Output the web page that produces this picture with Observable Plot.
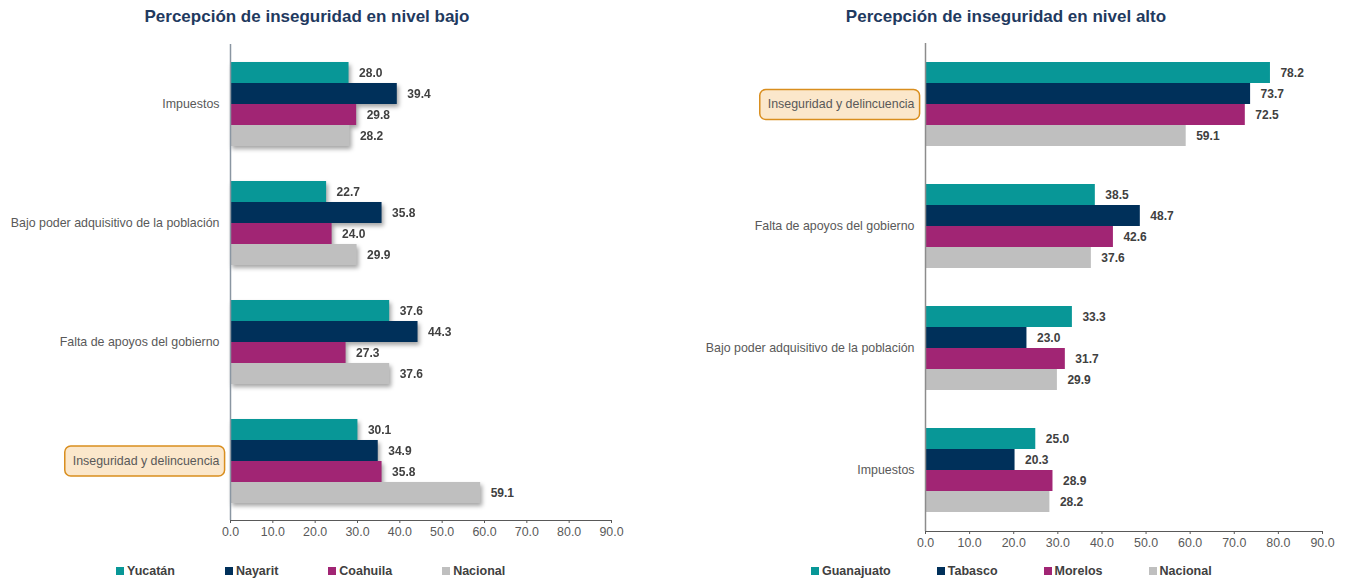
<!DOCTYPE html>
<html><head><meta charset="utf-8">
<script src="https://cdn.jsdelivr.net/npm/d3@7"></script>
<script src="https://cdn.jsdelivr.net/npm/@observablehq/plot@0.6"></script>
<style>
body{margin:0;width:1350px;height:582px;position:relative;background:#fff;font-family:"Liberation Sans",Arial,sans-serif;overflow:hidden}
.panel{position:absolute;top:0;width:675px;height:582px}
.title{position:absolute;top:7px;left:0;font-weight:bold;font-size:17px;color:#1f3a60;text-align:center;white-space:nowrap}
.chart{position:absolute;top:0;left:0}
.legend{position:absolute;top:564px;display:flex;gap:50px;font-weight:bold;font-size:12.5px;color:#404040;white-space:nowrap}
.legend .sw{display:inline-block;width:8px;height:8px;margin-right:3px}
#left g[aria-label="bar"]{filter:drop-shadow(2px 3px 2px rgba(0,0,0,0.35))}
</style></head><body>
<div class="panel" id="left" style="left:0">
  <div class="title" style="width:614px">Percepción de inseguridad en nivel bajo</div>
  <div class="chart"></div>
  <div class="legend" style="left:116px"></div>
</div>
<div class="panel" id="right" style="left:675px">
  <div class="title" style="width:662px">Percepción de inseguridad en nivel alto</div>
  <div class="chart"></div>
  <div class="legend" style="left:136px;gap:46px"></div>
</div>
<script>
const colors = ["#089797", "#00305a", "#a12574", "#bfbfbf"];
const xTicks = [0, 10, 20, 30, 40, 50, 60, 70, 80, 90];
const highlighted = "Inseguridad y delincuencia";

// Left chart: nivel bajo
const leftCategories = ["Impuestos", "Bajo poder adquisitivo de la población", "Falta de apoyos del gobierno", "Inseguridad y delincuencia"];
const leftSeries = ["Yucatán", "Nayarit", "Coahuila", "Nacional"];
const leftYucatan = [28.0, 22.7, 37.6, 30.1];
const leftNayarit = [39.4, 35.8, 44.3, 34.9];
const leftCoahuila = [29.8, 24.0, 27.3, 35.8];
const leftNacional = [28.2, 29.9, 37.6, 59.1];

// Right chart: nivel alto
const rightCategories = ["Inseguridad y delincuencia", "Falta de apoyos del gobierno", "Bajo poder adquisitivo de la población", "Impuestos"];
const rightSeries = ["Guanajuato", "Tabasco", "Morelos", "Nacional"];
const rightGuanajuato = [78.2, 38.5, 33.3, 25.0];
const rightTabasco = [73.7, 48.7, 23.0, 20.3];
const rightMorelos = [72.5, 42.6, 31.7, 28.9];
const rightNacional = [59.1, 37.6, 29.9, 28.2];

function buildTable(categories, series, valueLists) {
  const rows = [];
  categories.forEach((c, i) => series.forEach((s, j) => rows.push({category: c, series: s, value: valueLists[j][i]})));
  return rows;
}

function makeChart(cfg) {
  const data = buildTable(cfg.categories, cfg.series, cfg.values);
  const fmt = d3.format(".1f");
  return Plot.plot({
    width: cfg.width, height: cfg.height,
    marginLeft: cfg.ml, marginRight: cfg.mr, marginTop: cfg.mt, marginBottom: cfg.mb,
    style: {fontFamily: "Liberation Sans, Arial, sans-serif", fontSize: "12.4px", color: "#595959", background: "transparent"},
    x: {domain: [0, 90], ticks: xTicks, tickFormat: fmt, tickSize: 3, tickPadding: 4, line: true, label: null},
    y: {domain: cfg.series, axis: null, paddingInner: 0, paddingOuter: cfg.po, align: 0.5},
    fy: {domain: cfg.categories, padding: 0, axis: "left", label: null, tickSize: 0, tickPadding: 11},
    color: {domain: cfg.series, range: colors},
    marks: [
      Plot.barX(data, {x: "value", y: "series", fy: "category", fill: "series"}),
      Plot.text(data, {x: "value", y: "series", fy: "category", text: d => fmt(d.value), textAnchor: "start", dx: 10, fill: "#404040", fontWeight: "bold", fontSize: 12}),
      Plot.ruleX([0], {stroke: cfg.axisColor, strokeWidth: 1.5})
    ]
  });
}

function highlight(svg) {
  const ns = "http://www.w3.org/2000/svg";
  svg.querySelectorAll("text").forEach(t => {
    if (t.textContent.trim() === highlighted) {
      const b = t.getBBox();
      const r = document.createElementNS(ns, "rect");
      r.setAttribute("x", b.x - 8);
      r.setAttribute("y", b.y + b.height / 2 - 15);
      r.setAttribute("width", b.width + 13);
      r.setAttribute("height", 30);
      r.setAttribute("rx", 6);
      r.setAttribute("fill", "#fbe7cb");
      r.setAttribute("stroke", "#d98e1e");
      r.setAttribute("stroke-width", 1.5);
      if (t.getAttribute("transform")) r.setAttribute("transform", t.getAttribute("transform"));
      t.parentNode.insertBefore(r, t);
    }
  });
}

function legend(el, series) {
  series.forEach((s, i) => {
    const item = document.createElement("div");
    item.innerHTML = `<span class="sw" style="background:${colors[i]}"></span>${s}`;
    el.appendChild(item);
  });
}

const left = makeChart({
  categories: leftCategories, series: leftSeries,
  values: [leftYucatan, leftNayarit, leftCoahuila, leftNacional],
  width: 650, height: 556, ml: 230, mr: 39, mt: 44, mb: 36, po: 0.74, axisColor: "#8a96a2"
});
document.querySelector("#left .chart").appendChild(left);
highlight(left);
legend(document.querySelector("#left .legend"), leftSeries);

const right = makeChart({
  categories: rightCategories, series: rightSeries,
  values: [rightGuanajuato, rightTabasco, rightMorelos, rightNacional],
  width: 675, height: 568, ml: 250, mr: 28, mt: 41, mb: 36, po: 0.79, axisColor: "#8c8c8c"
});
document.querySelector("#right .chart").appendChild(right);
highlight(right);
legend(document.querySelector("#right .legend"), rightSeries);
</script>
</body></html>
